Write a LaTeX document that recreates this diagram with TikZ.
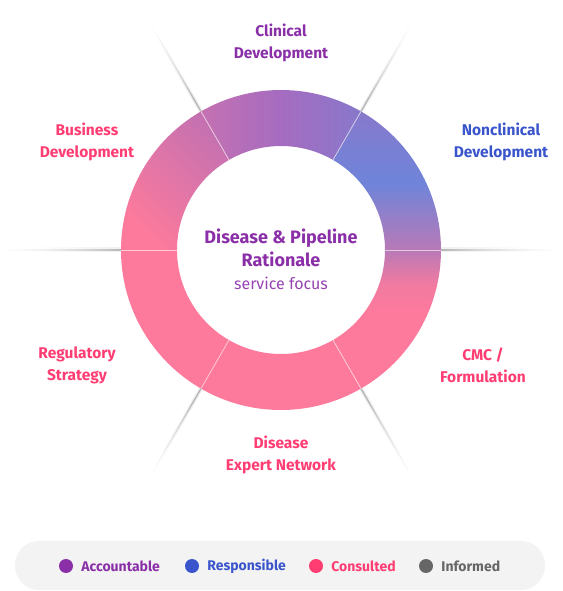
\documentclass[tikz,border=0pt]{standalone}
\usepackage{fontspec}
\setmainfont{Fira Sans}
\usetikzlibrary{positioning}
\definecolor{ringpink}{HTML}{FE7A9C}
\definecolor{ringpurple}{HTML}{A56CC0}
\definecolor{ringblue}{HTML}{6F84D9}
\definecolor{ringmauve}{HTML}{B87AB7}
\definecolor{ringviolet}{HTML}{8878CB}
\definecolor{ringrose}{HTML}{C571B1}
\definecolor{accpurple}{HTML}{8A2FA8}
\definecolor{respblue}{HTML}{3A55CC}
\definecolor{conspink}{HTML}{FF3D73}
\definecolor{infgray}{HTML}{666666}
\definecolor{legendbg}{HTML}{F3F3F3}
\pgfdeclareverticalshading{nonclinshade}{100bp}{color(0bp)=(ringmauve); color(25bp)=(ringmauve); color(36bp)=(ringmauve!55!ringblue); color(49bp)=(ringblue); color(62bp)=(ringblue!60!ringviolet); color(75bp)=(ringviolet); color(100bp)=(ringviolet)}
\pgfdeclarehorizontalshading{clinshade}{100bp}{color(0bp)=(ringrose); color(25bp)=(ringrose); color(50bp)=(ringpurple); color(75bp)=(ringviolet); color(100bp)=(ringviolet)}
\pgfdeclareverticalshading{cmcshade}{100bp}{color(0bp)=(ringpink); color(25bp)=(ringpink); color(52bp)=(ringpink); color(63bp)=(ringpink!80!ringmauve); color(75bp)=(ringmauve); color(100bp)=(ringmauve)}
\pgfdeclarehorizontalshading{rayshade}{100bp}{color(0bp)=(black!28); color(25bp)=(black!28); color(40bp)=(black!16); color(58bp)=(black!6); color(75bp)=(white); color(100bp)=(white)}
\pgfdeclarehorizontalshading{raysoftshade}{100bp}{color(0bp)=(black!6); color(25bp)=(black!6); color(45bp)=(black!3); color(65bp)=(white); color(100bp)=(white)}
\tikzset{
	seglabel/.style = {
		align=center,
		inner sep=0pt,
		font=\bfseries\fontsize{15.5}{22}\selectfont
	},
	centertitle/.style = {
		align=center,
		inner sep=0pt,
		text=accpurple,
		font=\bfseries\fontsize{18}{22.5}\selectfont
	},
	centersub/.style = {
		inner sep=0pt,
		text=accpurple!90,
		font=\fontsize{16}{18}\selectfont
	},
	legdot/.style = {
		circle,
		inner sep=0pt,
		minimum size=14pt
	},
	legtext/.style = {
		inner sep=0pt,
		anchor=west,
		font=\bfseries\fontsize{14}{16}\selectfont
	},
	divider/.style = {
		white,
		opacity=0.6,
		line width=0.8pt
	}
}

\begin{document}
\begin{tikzpicture}[x=1pt,y=1pt]
\useasboundingbox (0,0) rectangle (562,591);
\coordinate (c) at (281,341);

\begin{scope}[shift={(c)}]
% shadow rays
\foreach \a in {0,60,...,300} {
	\begin{scope}[rotate=\a]
	\shade[shading=raysoftshade, shading angle=\a] (160,-2) rectangle (275,2);
	\shade[shading=rayshade, shading angle=\a] (160,-0.7) rectangle (275,0.7);
	\end{scope}
}

% ring segments
\shade[shading=nonclinshade]
	(0:160) arc[start angle=0, end angle=60, radius=160] -- (60:104) arc[start angle=60, end angle=0, radius=104] -- cycle;
\shade[shading=clinshade]
	(60:160) arc[start angle=60, end angle=120, radius=160] -- (120:104) arc[start angle=120, end angle=60, radius=104] -- cycle;
\shade[top color=ringrose, middle color=ringpink!80!ringrose, bottom color=ringpink, shading angle=-45]
	(120:160) arc[start angle=120, end angle=180, radius=160] -- (180:104) arc[start angle=180, end angle=120, radius=104] -- cycle;
\fill[ringpink]
	(180:160) arc[start angle=180, end angle=300, radius=160] -- (300:104) arc[start angle=300, end angle=180, radius=104] -- cycle;
\shade[shading=cmcshade]
	(300:160) arc[start angle=300, end angle=360, radius=160] -- (0:104) arc[start angle=360, end angle=300, radius=104] -- cycle;

% dividers
\foreach \a in {0,60,...,300}
	\draw[divider] (\a:104) -- (\a:160);
\end{scope}

% labels
\node[seglabel, text=accpurple] (clinical) at (281,548) {Clinical\\Development};
\node[seglabel, text=respblue] (nonclin) at (501,449) {Nonclinical\\Development};
\node[seglabel, text=conspink] (business) at (87,449) {Business\\Development};
\node[seglabel, text=conspink] (regulatory) at (77,226) {Regulatory\\Strategy};
\node[seglabel, text=conspink] (cmc) at (483,226) {CMC /\\Formulation};
\node[seglabel, text=conspink] (network) at (281,136) {Disease\\Expert Network};

% center
\node[centertitle] (title) at (281,343) {Disease \& Pipeline\\Rationale};
\node[centersub] (focus) at (281,308) {service focus};

% legend
\node[fill=legendbg, rounded corners=24pt, minimum width=530pt, minimum height=49pt, inner sep=0pt] (legend) at (280,25.5) {};
\node[legdot, fill=accpurple] (dotacc) at (66,25) {};
\node[legtext, text=accpurple, right=8pt of dotacc] (txtacc) {Accountable};
\node[legdot, fill=respblue] (dotresp) at (192,25) {};
\node[legtext, text=respblue, right=8pt of dotresp] (txtresp) {Responsible};
\node[legdot, fill=conspink] (dotcons) at (316,25) {};
\node[legtext, text=conspink, right=8pt of dotcons] (txtcons) {Consulted};
\node[legdot, fill=infgray] (dotinf) at (426,25) {};
\node[legtext, text=infgray, right=8pt of dotinf] (txtinf) {Informed};
\end{tikzpicture}
\end{document}
